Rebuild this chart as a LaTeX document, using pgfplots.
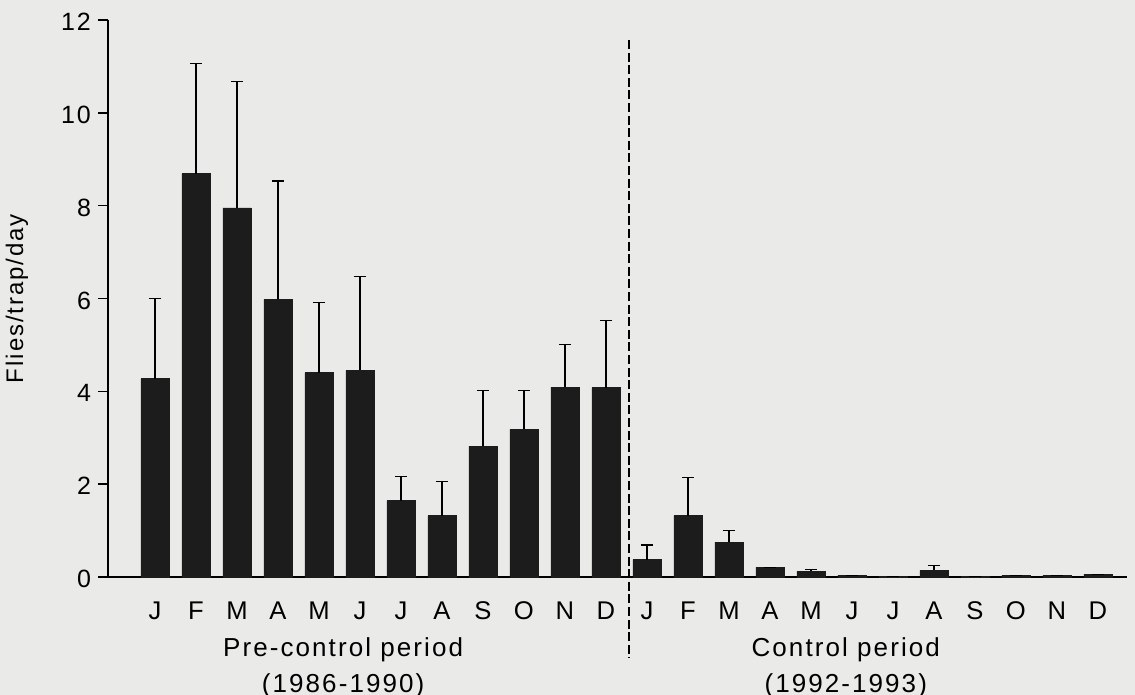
\documentclass[border=0pt]{standalone}
\usepackage{fontspec}
\setmainfont{Liberation Sans}[LetterSpace=8]
\usepackage{pgfplots}
\usepackage{pgfplotstable}
\pgfplotsset{compat=1.18}
\definecolor{bg}{RGB}{234,234,232}
\definecolor{barc}{RGB}{28,28,28}
\pgfplotstableread{
x y e
0 4.27 1.73
1 8.69 2.38
2 7.95 2.72
3 5.98 2.55
4 4.40 1.51
5 4.45 2.03
6 1.64 0.52
7 1.32 0.73
8 2.82 1.19
9 3.18 0.83
10 4.09 0.92
11 4.08 1.45
12 0.37 0.32
13 1.32 0.83
14 0.75 0.26
15 0.21 0
16 0.12 0.04
17 0.04 0
18 0.01 0
19 0.14 0.10
20 0.01 0
21 0.04 0
22 0.04 0
23 0.06 0
}\flies
\begin{document}
\begin{tikzpicture}
\fill[bg] (0,0) rectangle (567.5pt,347.5pt);
\useasboundingbox (0,0) rectangle (567.5pt,347.5pt);
\begin{axis}[
  at={(54pt,59pt)}, anchor=south west,
  scale only axis, width=509.5pt, height=278.5pt,
  xmin=-1.146, xmax=23.71, ymin=0, ymax=12,
  axis x line*=bottom, axis y line*=left,
  axis line style={line width=1.1pt, black},
  ytick={0,2,...,12},
  xtick={0,...,23},
  xticklabels={J,F,M,A,M,J,J,A,S,O,N,D,J,F,M,A,M,J,J,A,S,O,N,D},
  xtick style={draw=none},
  ytick style={line width=0.8pt, black},
  tick align=outside, major tick length=5pt,
  /pgf/number format/assume math mode=true,
  yticklabel style={font=\fontsize{12.5}{15}\selectfont, xshift=0pt, yshift=-1pt},
  xticklabel style={font=\fontsize{12.8}{15}\selectfont, yshift=-4pt},
  ylabel={Flies/trap/day},
  ylabel style={at={(axis description cs:-0.0893,0.5)}, anchor=center, font=\fontsize{12}{14}\selectfont},
  clip=false,
  ybar, bar width=14pt,
]
\addplot[fill=barc, draw=barc,
  error bars/.cd, y dir=plus, y explicit,
  error bar style={line width=0.6pt, black},
  error mark options={rotate=90, mark size=3pt, line width=0.6pt, black}]
  table[x=x, y=y, y error=e] {\flies};
\draw[dash pattern=on 4.5pt off 1.8pt, line width=1.3pt] (axis cs:11.56,11.57) -- (axis cs:11.56,-1.74);
\node[anchor=base, font=\fontsize{13}{15}\selectfont] at (axis cs:4.59,-1.72) {Pre-control period};
\node[anchor=base, font=\fontsize{13}{15}\selectfont] at (axis cs:4.59,-2.49) {(1986-1990)};
\node[anchor=base, font=\fontsize{13}{15}\selectfont] at (axis cs:16.85,-1.72) {Control period};
\node[anchor=base, font=\fontsize{13}{15}\selectfont] at (axis cs:16.85,-2.49) {(1992-1993)};
\end{axis}
\end{tikzpicture}
\end{document}
